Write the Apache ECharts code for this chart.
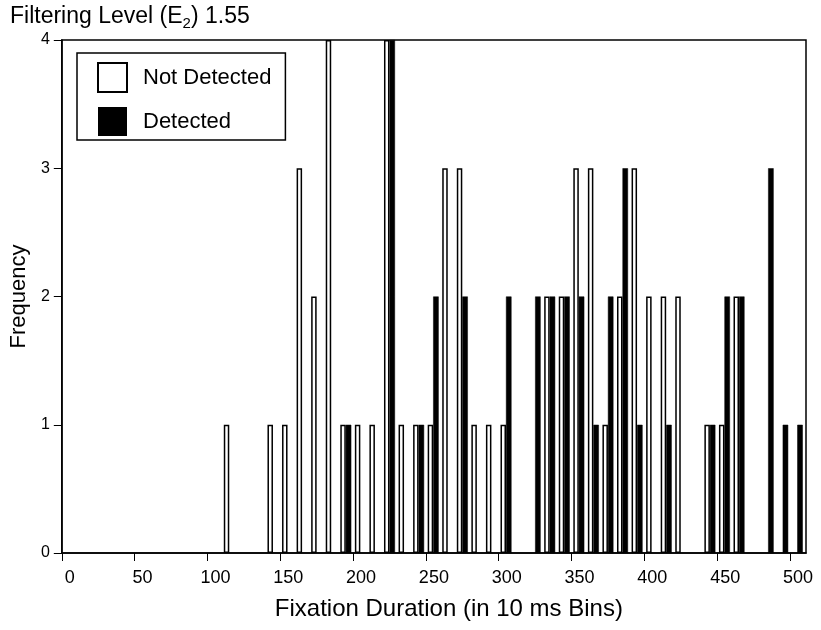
<!DOCTYPE html>
<html>
<head>
<meta charset="utf-8">
<script src="https://cdn.jsdelivr.net/npm/echarts@6/dist/echarts.min.js"></script>
<style>
  html, body { margin: 0; padding: 0; background: #fff; }
  #chart { width: 821px; height: 630px; }
</style>
</head>
<body>
<div id="chart"></div>
<script>
// bin start (10 ms bins), counts per bin
var bins = [110, 140, 150, 160, 170, 180, 190, 200, 210, 220, 230, 240, 250, 260, 270, 280, 290, 300,
            320, 330, 340, 350, 360, 370, 380, 390, 400, 410, 420, 440, 450, 460, 480, 490, 500];
var notDetected = [1, 1, 1, 3, 2, 4, 1, 1, 1, 4, 1, 1, 1, 3, 3, 1, 1, 1,
                   0, 2, 2, 3, 3, 1, 2, 3, 2, 2, 2, 1, 1, 2, 0, 0, 0];
var detected = [0, 0, 0, 0, 0, 0, 1, 0, 0, 4, 0, 1, 2, 0, 2, 0, 0, 2,
                2, 2, 2, 2, 1, 2, 3, 1, 0, 1, 0, 1, 2, 2, 3, 1, 1];
var xTicks = [0, 50, 100, 150, 200, 250, 300, 350, 400, 450, 500];
var binWidth = 10;

var font = 'Liberation Sans, Arial, Helvetica, sans-serif';

function toPairs(vals) {
    var out = [];
    for (var i = 0; i < bins.length; i++) {
        if (vals[i] > 0) {
            out.push([bins[i] + binWidth / 2, vals[i]]);
        }
    }
    return out;
}

var myChart = echarts.init(document.getElementById('chart'));

var option = {
    animation: false,
    backgroundColor: '#fff',
    textStyle: { fontFamily: font, color: '#000' },
    title: {
        text: '{a|Filtering Level (E}{s|2}{a|) 1.55}',
        left: 10,
        top: 3,
        padding: 0,
        textStyle: {
            fontWeight: 'normal',
            rich: {
                a: { fontFamily: font, fontSize: 23, fontWeight: 'normal', color: '#000', lineHeight: 28, verticalAlign: 'middle' },
                s: { fontFamily: font, fontSize: 15, fontWeight: 'normal', color: '#000', lineHeight: 15, verticalAlign: 'bottom' }
            }
        }
    },
    legend: {
        orient: 'vertical',
        align: 'left',
        left: 77,
        top: 53,
        padding: [9, 14, 4, 20],
        itemGap: 14,
        itemWidth: 29,
        itemHeight: 29,
        borderColor: '#000',
        borderWidth: 1.5,
        icon: 'rect',
        textStyle: { fontFamily: font, fontSize: 22, color: '#000', padding: [0, 0, 0, 11] },
        data: [
            { name: 'Not Detected', itemStyle: { color: '#fff', borderColor: '#000', borderWidth: 2 } },
            { name: 'Detected', itemStyle: { color: '#000', borderWidth: 0 } }
        ]
    },
    grid: {
        left: 58,
        right: 15,
        top: 40,
        bottom: 77,
        show: true,
        borderColor: '#000',
        borderWidth: 1.5,
        backgroundColor: 'transparent'
    },
    xAxis: {
        type: 'value',
        min: 0,
        max: 511,
        interval: 50,
        name: 'Fixation Duration (in 10 ms Bins)',
        nameLocation: 'middle',
        nameGap: 44,
        nameTextStyle: { fontFamily: font, fontSize: 24, color: '#000', padding: [0, 0, 0, 30] },
        axisLine: { show: true, lineStyle: { color: '#000', width: 1.5 } },
        axisTick: { show: true, inside: false, length: 8, lineStyle: { color: '#000' }, customValues: xTicks },
        axisLabel: { fontFamily: font, fontSize: 18, color: '#000', margin: 16, padding: [0, 0, 0, 16], customValues: xTicks },
        splitLine: { show: false }
    },
    yAxis: {
        type: 'value',
        min: 0,
        max: 4,
        interval: 1,
        name: 'Frequency',
        nameLocation: 'middle',
        nameGap: 31,
        nameRotate: 90,
        nameTextStyle: { fontFamily: font, fontSize: 22, color: '#000' },
        axisLine: { show: true, lineStyle: { color: '#000', width: 1.5 } },
        axisTick: { show: true, inside: false, length: 8, lineStyle: { color: '#000' } },
        axisLabel: { fontFamily: font, fontSize: 16, color: '#000', margin: 12 },
        splitLine: { show: false }
    },
    series: [
        {
            name: 'Not Detected',
            type: 'bar',
            barWidth: 5.5,
            barGap: '0%',
            itemStyle: { color: '#fff', borderColor: '#000', borderWidth: 1.5 },
            data: toPairs(notDetected)
        },
        {
            name: 'Detected',
            type: 'bar',
            barWidth: 5.5,
            barGap: '0%',
            itemStyle: { color: '#000', borderColor: '#000', borderWidth: 0.5 },
            data: toPairs(detected)
        }
    ]
};

myChart.setOption(option);
</script>
</body>
</html>
